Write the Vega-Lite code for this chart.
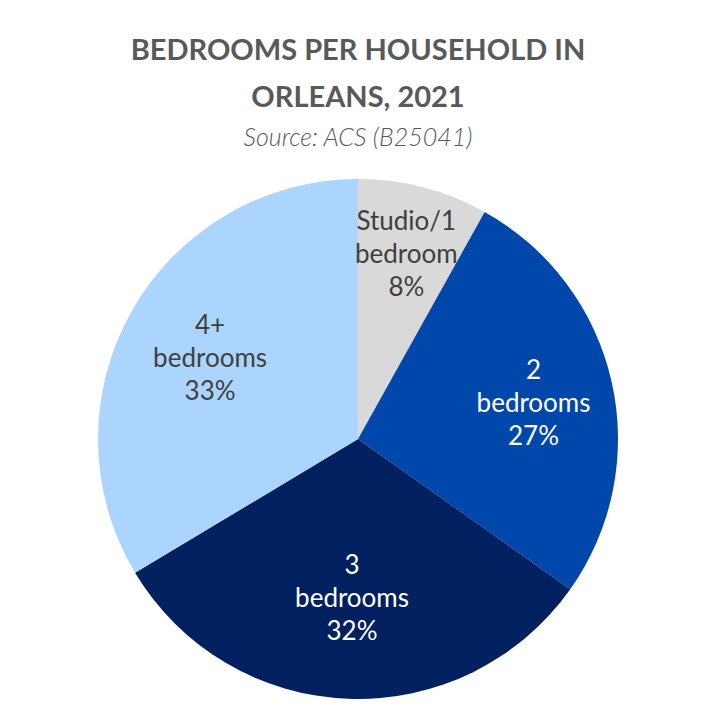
{
  "$schema": "https://vega.github.io/schema/vega-lite/v6.json",
  "width": 692,
  "height": 540,
  "autosize": {"type": "pad"},
  "padding": {"left": 12, "right": 0, "top": 37, "bottom": 0},
  "background": "white",
  "config": {"view": {"stroke": null}},
  "title": {
    "text": ["BEDROOMS PER HOUSEHOLD IN", "ORLEANS, 2021"],
    "subtitle": "Source: ACS (B25041)",
    "anchor": "middle",
    "font": "Lato",
    "fontSize": 29,
    "fontWeight": "bold",
    "color": "#595959",
    "lineHeight": 47,
    "subtitleFont": "Lato",
    "subtitleFontSize": 25,
    "subtitleFontStyle": "italic",
    "subtitleFontWeight": 300,
    "subtitleColor": "#595959",
    "subtitlePadding": 13,
    "offset": 18
  },
  "data": {
    "values": [
      {"category": "Studio/1 bedroom", "idx": 1, "value": 8.1, "label": "Studio/1\nbedroom\n8%"},
      {"category": "2 bedrooms", "idx": 2, "value": 26.7, "label": "2\nbedrooms\n27%"},
      {"category": "3 bedrooms", "idx": 3, "value": 31.6, "label": "3\nbedrooms\n32%"},
      {"category": "4+ bedrooms", "idx": 4, "value": 33.6, "label": "4+\nbedrooms\n33%"}
    ]
  },
  "encoding": {
    "theta": {"field": "value", "type": "quantitative", "stack": true},
    "order": {"field": "idx", "type": "quantitative"}
  },
  "layer": [
    {
      "mark": {"type": "arc", "outerRadius": 260},
      "encoding": {
        "color": {
          "field": "category",
          "type": "nominal",
          "scale": {
            "domain": ["Studio/1 bedroom", "2 bedrooms", "3 bedrooms", "4+ bedrooms"],
            "range": ["#d9d9d9", "#0047ab", "#002060", "#abd5ff"]
          },
          "legend": null
        }
      }
    },
    {
      "mark": {"type": "text", "font": "Lato", "fontSize": 26, "lineHeight": 33, "lineBreak": "\n", "align": "center", "baseline": "middle", "dy": -31, "color": "#404040"},
      "encoding": {
        "radius": {"value": 192},
        "text": {"condition": {"test": "datum.category === 'Studio/1 bedroom'", "field": "label"}, "value": ""}
      }
    },
    {
      "mark": {"type": "text", "font": "Lato", "fontSize": 26, "lineHeight": 33, "lineBreak": "\n", "align": "center", "baseline": "middle", "dy": -28, "color": "#ffffff"},
      "encoding": {
        "radius": {"value": 180},
        "text": {"condition": {"test": "datum.category === '2 bedrooms'", "field": "label"}, "value": ""}
      }
    },
    {
      "mark": {"type": "text", "font": "Lato", "fontSize": 26, "lineHeight": 33, "lineBreak": "\n", "align": "center", "baseline": "middle", "dy": -31, "color": "#ffffff"},
      "encoding": {
        "radius": {"value": 158},
        "text": {"condition": {"test": "datum.category === '3 bedrooms'", "field": "label"}, "value": ""}
      }
    },
    {
      "mark": {"type": "text", "font": "Lato", "fontSize": 26, "lineHeight": 33, "lineBreak": "\n", "align": "center", "baseline": "middle", "dy": -29, "color": "#404040"},
      "encoding": {
        "radius": {"value": 170},
        "text": {"condition": {"test": "datum.category === '4+ bedrooms'", "field": "label"}, "value": ""}
      }
    }
  ]
}
